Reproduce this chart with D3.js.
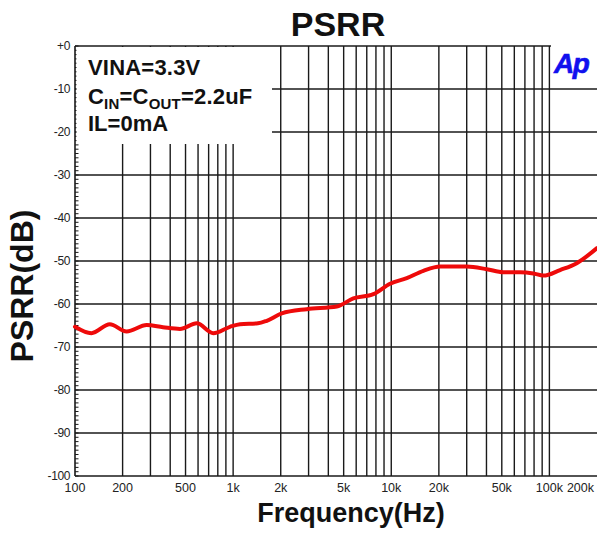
<!DOCTYPE html>
<html><head><meta charset="utf-8">
<script src="https://cdn.jsdelivr.net/npm/d3@7"></script>
<style>
html,body{margin:0;padding:0;background:#fff;}
svg{display:block;font-family:"Liberation Sans",Arial,Helvetica,sans-serif;}
</style></head>
<body>
<svg id="c" width="597" height="533"></svg>
<script>
// ---- data ----
const freqHz = [100, 127, 166, 212, 284, 360, 461, 589, 749, 955, 1106, 1436, 1632, 2029, 2921, 4522, 5758, 7704, 9827, 12532, 15963, 20350, 30033, 40180, 51170, 65260, 79250, 91620, 116850, 148960, 200000];
const psrrDb = [-65.3, -66.8, -64.7, -66.4, -64.9, -65.4, -65.8, -64.5, -66.8, -65.3, -64.7, -64.5, -63.9, -62.2, -61.2, -60.6, -58.7, -57.7, -55.3, -54.0, -52.3, -51.3, -51.3, -51.9, -52.6, -52.6, -52.9, -53.4, -52.1, -50.5, -47.0];
const xTickValues = [100, 200, 500, 1000, 2000, 5000, 10000, 20000, 50000, 100000, 200000];
const xTickLabels = ["100", "200", "500", "1k", "2k", "5k", "10k", "20k", "50k", "100k", "200k"];
const yTickValues = [0, -10, -20, -30, -40, -50, -60, -70, -80, -90, -100];
const yTickLabels = ["+0", "-10", "-20", "-30", "-40", "-50", "-60", "-70", "-80", "-90", "-100"];
const gridFreqs = [200,300,400,500,600,700,800,900,1000,2000,3000,4000,5000,6000,7000,8000,9000,10000,20000,30000,40000,50000,60000,70000,80000,90000,100000];
const titleText = "PSRR";
const xTitle = "Frequency(Hz)";
const yTitle = "PSRR(dB)";

// ---- layout ----
const L = 75, R = 597, T = 46, B = 476;
const svg = d3.select("#c");
const x = d3.scaleLog().domain([100, 200000]).range([L, R]);
const y = d3.scaleLinear().domain([-100, 0]).range([B, T]);
const gridColor = "#1a1a1a";

// grid
const g = svg.append("g");
g.selectAll("line.v").data(gridFreqs).join("line")
  .attr("x1", d => x(d)).attr("x2", d => x(d))
  .attr("y1", T).attr("y2", B)
  .attr("stroke", gridColor).attr("stroke-width", 1.4);
g.selectAll("line.h").data(yTickValues.filter(v => v > -100 && v < 0)).join("line")
  .attr("x1", L).attr("x2", R)
  .attr("y1", d => y(d)).attr("y2", d => y(d))
  .attr("stroke", gridColor).attr("stroke-width", 1.4);

// frame: top, left, bottom
svg.append("line").attr("x1", L).attr("x2", R).attr("y1", T).attr("y2", T).attr("stroke", gridColor).attr("stroke-width", 1.4);
svg.append("line").attr("x1", L).attr("x2", R).attr("y1", B).attr("y2", B).attr("stroke", gridColor).attr("stroke-width", 1.6);
svg.append("line").attr("x1", L).attr("x2", L).attr("y1", T).attr("y2", B).attr("stroke", gridColor).attr("stroke-width", 1.6);

// minor ticks on left axis every 1 dB
const minor = d3.range(-100, 1, 1);
svg.append("g").selectAll("line").data(minor).join("line")
  .attr("x1", L).attr("x2", L + 3.5)
  .attr("y1", d => y(d)).attr("y2", d => y(d))
  .attr("stroke", gridColor).attr("stroke-width", 1);

// white boxes (legend text & logo)
svg.append("rect").attr("x", L + 1.5).attr("y", T + 1).attr("width", 272 - L - 1.5).attr("height", 144 - T - 1).attr("fill", "#fff");
svg.append("rect").attr("x", 551).attr("y", 38).attr("width", 46).attr("height", y(-10) - 38 - 1.5).attr("fill", "#fff");

// y tick labels
svg.append("g").selectAll("text").data(yTickValues).join("text")
  .attr("x", 70).attr("y", d => y(d)).attr("dy", "0.36em")
  .attr("text-anchor", "end").attr("font-size", 12).attr("fill", "#222")
  .attr("letter-spacing", "-0.4")
  .text((d, i) => yTickLabels[i]);

// x tick labels
svg.append("g").selectAll("text").data(xTickValues).join("text")
  .attr("x", (d, i) => i === xTickValues.length - 1 ? x(d) - 3 : x(d))
  .attr("y", 492)
  .attr("text-anchor", (d, i) => i === xTickValues.length - 1 ? "end" : "middle")
  .attr("font-size", 12.5).attr("fill", "#222")
  .text((d, i) => xTickLabels[i]);

// titles
svg.append("text").attr("x", 338).attr("y", 36).attr("text-anchor", "middle")
  .attr("font-size", 34).attr("font-weight", "bold").attr("fill", "#111").text(titleText);
svg.append("text").attr("x", 351).attr("y", 522).attr("text-anchor", "middle")
  .attr("font-size", 27).attr("font-weight", "bold").attr("fill", "#111").text(xTitle);
svg.append("text").attr("transform", "translate(33,286) rotate(-90)").attr("text-anchor", "middle")
  .attr("font-size", 32).attr("font-weight", "bold").attr("fill", "#111").text(yTitle);

// annotation
const ann = svg.append("g").attr("font-weight", "bold").attr("fill", "#111");
ann.append("text").attr("x", 88).attr("y", 75).attr("font-size", 22).attr("letter-spacing", "0.2").text("VINA=3.3V");
const t2 = ann.append("text").attr("x", 88).attr("y", 104).attr("font-size", 22).attr("letter-spacing", "0.2");
t2.append("tspan").text("C");
t2.append("tspan").attr("font-size", 15).attr("dy", 5).text("IN");
t2.append("tspan").attr("dy", -5).text("=C");
t2.append("tspan").attr("font-size", 15).attr("dy", 5).text("OUT");
t2.append("tspan").attr("dy", -5).text("=2.2uF");
ann.append("text").attr("x", 88).attr("y", 131).attr("font-size", 22).text("IL=0mA");

// logo
svg.append("text").attr("x", 554).attr("y", 73).attr("font-size", 28)
  .attr("font-weight", "bold").attr("font-style", "italic").attr("fill", "#1010ee")
  .attr("stroke", "#1010ee").attr("stroke-width", 0.6)
  .attr("letter-spacing", "-1.5").text("Ap");

// curve
const line = d3.line().x((d, i) => x(freqHz[i])).y(d => y(d)).curve(d3.curveMonotoneX);
svg.append("path").datum(psrrDb).attr("d", line)
  .attr("fill", "none").attr("stroke", "#ee0a0a").attr("stroke-width", 4)
  .attr("stroke-linejoin", "round").attr("stroke-linecap", "round");
</script>
</body></html>
